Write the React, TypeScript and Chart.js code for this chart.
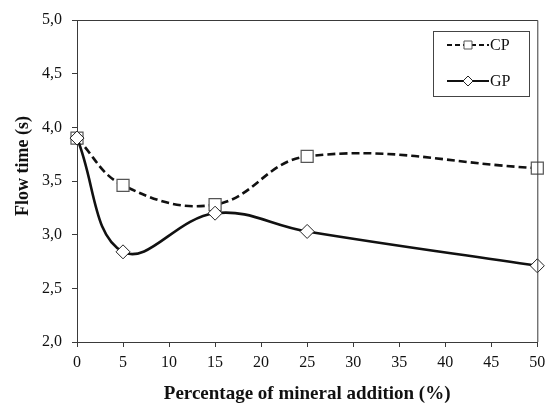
import { useEffect, useRef } from 'react';
import { Chart, registerables } from 'chart.js';

Chart.register(...registerables);

// Mineral addition levels (%) and measured flow times (s)
const additionPct = [0, 5, 15, 25, 50];
const flowTimeCP = [3.9, 3.46, 3.28, 3.73, 3.62];
const flowTimeGP = [3.9, 2.84, 3.2, 3.03, 2.71];
const seriesNames = ['CP', 'GP'];
const xTitle = 'Percentage of mineral addition (%)';
const yTitle = 'Flow time (s)';

const FONT = '"Liberation Serif", "Times New Roman", serif';
const AXIS = '#3a3a3a';

const frameAndLegend = {
  id: 'frameAndLegend',
  afterDraw(chart: any) {
    const { ctx, chartArea } = chart;
    const { left, right, top, bottom } = chartArea;
    ctx.save();
    // top and right edges of the plot frame
    ctx.strokeStyle = AXIS;
    ctx.lineWidth = 1;
    ctx.beginPath();
    ctx.moveTo(left, top + 0.5);
    ctx.lineTo(right + 0.5, top + 0.5);
    ctx.lineTo(right + 0.5, bottom);
    ctx.stroke();

    // y axis title
    ctx.save();
    ctx.translate(23, 166);
    ctx.rotate(-Math.PI / 2);
    ctx.font = `bold 18px ${FONT}`;
    ctx.fillStyle = '#111';
    ctx.textAlign = 'center';
    ctx.textBaseline = 'middle';
    ctx.fillText(yTitle, 0, 0);
    ctx.restore();

    // legend box
    const bx = 433.5, by = 31.5, bw = 96, bh = 65;
    ctx.strokeStyle = '#444';
    ctx.lineWidth = 1;
    ctx.strokeRect(bx, by, bw, bh);

    const rows = [
      { name: seriesNames[0], y: 45, dash: [5, 3], shape: 'square' },
      { name: seriesNames[1], y: 81, dash: [], shape: 'diamond' },
    ];
    rows.forEach((r) => {
      ctx.strokeStyle = '#111';
      ctx.lineWidth = 2;
      ctx.setLineDash(r.dash);
      ctx.beginPath();
      ctx.moveTo(447, r.y);
      ctx.lineTo(489, r.y);
      ctx.stroke();
      ctx.setLineDash([]);
      ctx.fillStyle = '#fff';
      ctx.lineWidth = 1;
      ctx.beginPath();
      if (r.shape === 'square') {
        ctx.strokeStyle = '#555';
        ctx.rect(464, r.y - 4, 8, 8);
      } else {
        ctx.strokeStyle = '#222';
        ctx.moveTo(468, r.y - 5);
        ctx.lineTo(473, r.y);
        ctx.lineTo(468, r.y + 5);
        ctx.lineTo(463, r.y);
        ctx.closePath();
      }
      ctx.fill();
      ctx.stroke();
      ctx.fillStyle = '#111';
      ctx.font = `16px ${FONT}`;
      ctx.textAlign = 'left';
      ctx.textBaseline = 'middle';
      ctx.fillText(r.name, 490, r.y + 1);
    });
    ctx.restore();
  },
};

export default function App() {
  const canvasRef = useRef<HTMLCanvasElement>(null);

  useEffect(() => {
    if (!canvasRef.current) return;
    const chart = new Chart(canvasRef.current, {
      type: 'line',
      data: {
        datasets: [
          {
            label: seriesNames[1],
            data: additionPct.map((x, i) => ({ x, y: flowTimeGP[i] })),
            borderColor: '#111',
            borderWidth: 2.6,
            tension: 0.4,
            pointStyle: 'rectRot',
            pointRadius: 7,
            pointBackgroundColor: '#fff',
            pointBorderColor: '#222',
            pointBorderWidth: 1,
            clip: false,
          },
          {
            label: seriesNames[0],
            data: additionPct.map((x, i) => ({ x, y: flowTimeCP[i] })),
            borderColor: '#111',
            borderWidth: 2.6,
            borderDash: [8, 4],
            tension: 0.4,
            pointStyle: 'rect',
            pointRadius: 8.5,
            pointBackgroundColor: '#fff',
            pointBorderColor: '#555',
            pointBorderWidth: 1.2,
            clip: false,
          },
        ],
      },
      options: {
        animation: false,
        responsive: false,
        devicePixelRatio: 1,
        layout: { padding: { top: 20, right: 9, left: 0, bottom: 0 } },
        plugins: { legend: { display: false }, tooltip: { enabled: false } },
        scales: {
          x: {
            type: 'linear',
            min: 0,
            max: 50,
            afterFit: (s: any) => {
              s.height = 65;
              s.paddingLeft = 0;
              s.paddingRight = 0;
            },
            border: { color: AXIS, width: 1 },
            grid: { display: true, drawOnChartArea: false, tickLength: 5, color: AXIS },
            ticks: { stepSize: 5, color: '#111', padding: 6, font: { family: FONT, size: 16 } },
            title: {
              display: true,
              text: xTitle,
              color: '#111',
              font: { family: FONT, size: 19, weight: 'bold' },
              padding: { top: 0, bottom: 2 },
            },
          },
          y: {
            min: 2,
            max: 5,
            afterFit: (s: any) => { s.width = 77; },
            border: { color: AXIS, width: 1 },
            grid: { display: true, drawOnChartArea: false, tickLength: 5, color: AXIS },
            ticks: {
              stepSize: 0.5,
              color: '#111',
              padding: 10,
              font: { family: FONT, size: 16 },
              callback: (v: any) => Number(v).toFixed(1).replace('.', ','),
            },
          },
        },
      },
      plugins: [frameAndLegend],
    });
    return () => chart.destroy();
  }, []);

  return (
    <div style={{ position: 'fixed', left: 0, top: 0, width: 547, height: 407, background: '#fff' }}>
      <canvas ref={canvasRef} width={547} height={407} style={{ display: 'block' }} />
    </div>
  );
}
